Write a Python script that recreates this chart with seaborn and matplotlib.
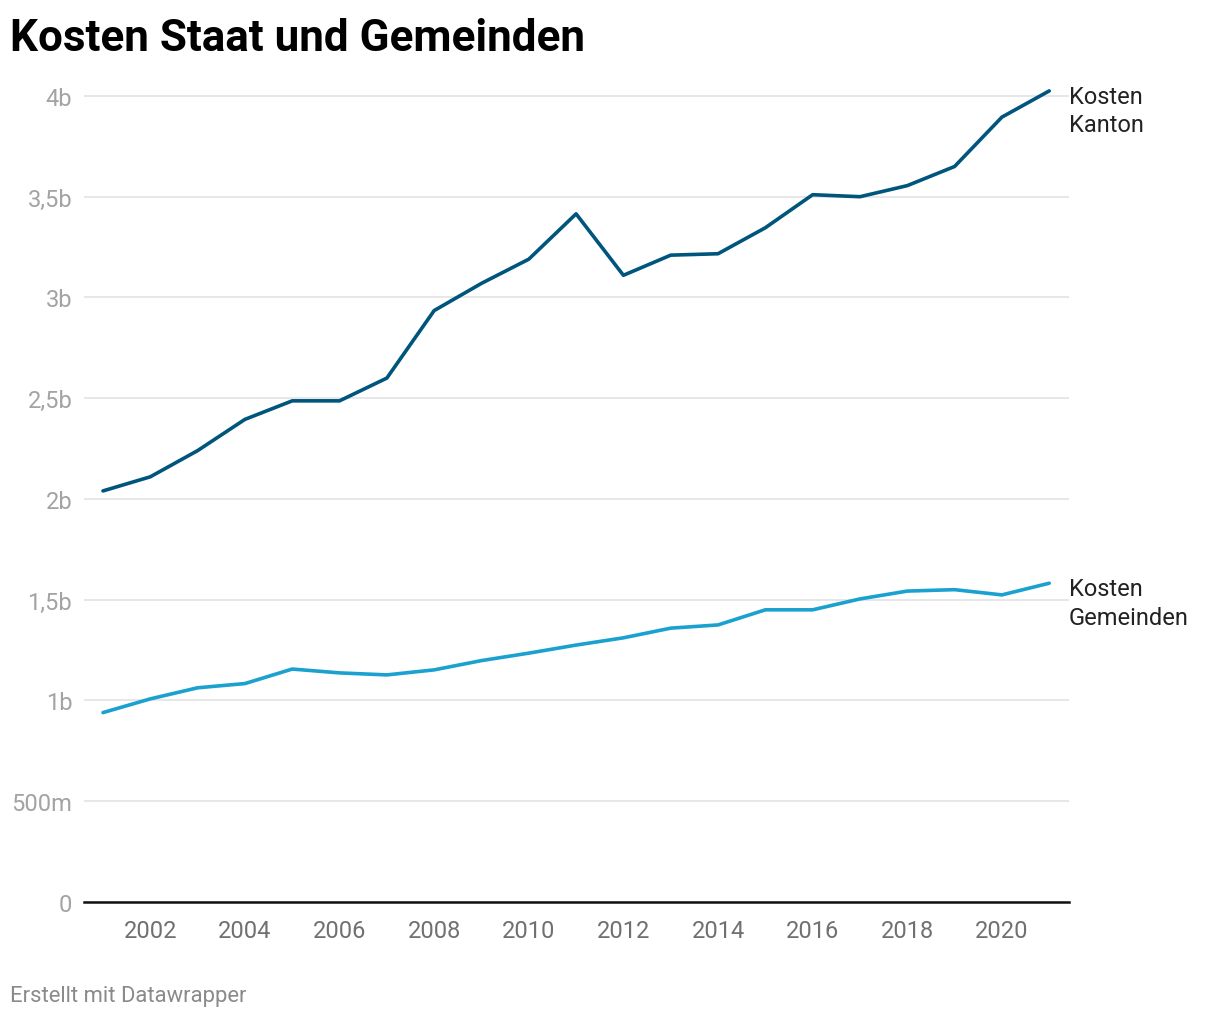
import numpy as np
import matplotlib
matplotlib.use("Agg")
import matplotlib.pyplot as plt
import seaborn as sn
import pandas as pd

# values, in billions
years = list(range(2001, 2022))
kosten_kanton = [2.04, 2.11, 2.24, 2.395, 2.487, 2.487, 2.60, 2.935, 3.07, 3.19, 3.415,
                 3.11, 3.21, 3.217, 3.346, 3.51, 3.50, 3.555, 3.65, 3.895, 4.025]
kosten_gemeinden = [0.94, 1.008, 1.063, 1.084, 1.156, 1.137, 1.127, 1.152, 1.198, 1.235, 1.275,
                    1.311, 1.359, 1.375, 1.45, 1.45, 1.504, 1.543, 1.55, 1.524, 1.582]
series_names = ["Kosten Kanton", "Kosten Gemeinden"]
series_labels = ["Kosten\nKanton", "Kosten\nGemeinden"]
y_ticks = [0, 0.5, 1, 1.5, 2, 2.5, 3, 3.5, 4]
y_ticklabels = ["0", "500m", "1b", "1,5b", "2b", "2,5b", "3b", "3,5b", "4b"]
x_ticks = list(range(2002, 2021, 2))

colors = {"Kosten Kanton": "#00557c", "Kosten Gemeinden": "#1ba1d0"}


def main():
    sn.set_style("white")
    plt.rcParams["font.family"] = ["Roboto", "DejaVu Sans"]

    df = pd.DataFrame({
        "Jahr": years * 2,
        "Wert": kosten_kanton + kosten_gemeinden,
        "Serie": [series_names[0]] * len(years) + [series_names[1]] * len(years),
    })

    fig = plt.figure(figsize=(12.2, 10.2), dpi=100)
    ax = fig.add_axes([0.0689, 0.1147, 0.8074, 0.81])

    sn.lineplot(data=df, x="Jahr", y="Wert", hue="Serie", palette=colors,
                linewidth=2.6, legend=False, ax=ax, zorder=3)

    ax.set_xlim(2000.6, 2021.42)
    ax.set_ylim(0, 4.1)
    ax.set_yticks(y_ticks)
    ax.set_yticklabels(y_ticklabels)
    ax.set_xticks(x_ticks)
    ax.set_xticklabels([str(x) for x in x_ticks])
    ax.set_xlabel("")
    ax.set_ylabel("")

    ax.grid(axis="y", color="#e3e3e3", linewidth=1.2, zorder=0)
    ax.grid(axis="x", visible=False)
    for s in ["top", "right", "left"]:
        ax.spines[s].set_visible(False)
    ax.spines["bottom"].set_color("#111111")
    ax.spines["bottom"].set_linewidth(1.8)
    ax.spines["bottom"].set_zorder(4)

    ax.tick_params(axis="y", length=0, pad=8.5, labelsize=17, labelcolor="#a3a3a3")
    ax.tick_params(axis="x", length=0, pad=12, labelsize=17, labelcolor="#707070")

    # direct labels at line ends
    ends = [kosten_kanton[-1], kosten_gemeinden[-1]]
    for lab, v in zip(series_labels, ends):
        ax.annotate(lab, xy=(years[-1], v), xytext=(14, 4.5), textcoords="offset points",
                    ha="left", va="top", fontsize=17, color="#222222",
                    linespacing=1.32, annotation_clip=False)

    fig.text(0.008, 0.962, "Kosten Staat und Gemeinden", fontsize=31.7,
             fontweight="bold", ha="left", va="center", color="#000000")
    fig.text(0.008, 0.023, "Erstellt mit Datawrapper", fontsize=15.8,
             ha="left", va="center", color="#8a8a8a")

    fig.savefig("out.png", dpi=100)


if __name__ == "__main__":
    main()
